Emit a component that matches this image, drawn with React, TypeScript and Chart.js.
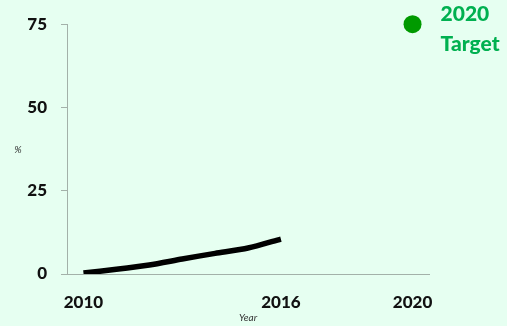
import React, { useEffect, useRef } from "react";
import { Chart, registerables } from "chart.js";

Chart.register(...registerables);

// Share (%) by year, plus the 2020 target
const years = [2010, 2011, 2012, 2013, 2014, 2015, 2016];
const shares = [0.3, 1.4, 2.7, 4.5, 6.2, 7.8, 10.5];
const targetYear = 2020;
const targetValue = 75;
const targetLabel = ["2020", "Target"];
const xTickValues = [2010, 2016, 2020];
const yTickValues = [0, 25, 50, 75];

const TICK_FONT = { family: "Lato, 'Open Sans', sans-serif", size: 17, weight: "900" as any };
const AXIS_COLOR = "#a3b1a9";
const GREEN_DOT = "#009a00";
const GREEN_TEXT = "#00b050";

const annotations = {
  id: "annotations",
  afterDatasetsDraw(chart: any) {
    const { ctx, chartArea, scales } = chart;
    const px = scales.x.getPixelForValue(targetYear);
    const py = scales.y.getPixelForValue(targetValue);
    ctx.save();
    ctx.fillStyle = GREEN_TEXT;
    ctx.font = "900 21px Lato, 'Open Sans', sans-serif";
    ctx.textAlign = "left";
    ctx.textBaseline = "middle";
    ctx.fillText(targetLabel[0], px + 28, py - 10);
    ctx.fillText(targetLabel[1], px + 28, py + 20);
    // horizontal "%" axis title
    ctx.fillStyle = "#333";
    ctx.font = "italic 10px Lato, 'Open Sans', sans-serif";
    ctx.textAlign = "center";
    ctx.fillText("%", 18, (chartArea.top + chartArea.bottom) / 2 + 1);
    ctx.restore();
  },
};

export default function App() {
  const ref = useRef<HTMLCanvasElement>(null);

  useEffect(() => {
    document.body.style.margin = "0";
    document.body.style.background = "#e6fff1";
    const chart = new Chart(ref.current!, {
      type: "line",
      data: {
        datasets: [
          {
            data: years.map((y, i) => ({ x: y, y: shares[i] })),
            borderColor: "#000",
            borderWidth: 5.5,
            borderCapStyle: "butt",
            tension: 0.25,
            pointRadius: 0,
            fill: false,
          },
          {
            data: [{ x: targetYear, y: targetValue }],
            showLine: false,
            pointRadius: 9,
            pointBackgroundColor: GREEN_DOT,
            pointBorderColor: GREEN_DOT,
            pointBorderWidth: 0,
            clip: false as any,
          },
        ],
      },
      options: {
        responsive: false,
        animation: false,
        layout: { padding: { top: 24, right: 78, left: 0, bottom: 0 } },
        plugins: { legend: { display: false }, tooltip: { enabled: false } },
        scales: {
          x: {
            type: "linear",
            min: 2009.5,
            max: 2020.5,
            afterBuildTicks: (s: any) => {
              s.ticks = xTickValues.map((v) => ({ value: v }));
            },
            afterFit: (s: any) => {
              s.height = 52;
            },
            grid: { display: false, drawTicks: false },
            border: { display: true, color: AXIS_COLOR, width: 1 },
            ticks: {
              font: TICK_FONT,
              color: "#111",
              padding: 18,
              maxRotation: 0,
              autoSkip: false,
              callback: (v: any) => String(v),
            },
            title: {
              display: true,
              text: "Year",
              font: { family: "Lato, 'Open Sans', sans-serif", size: 10, style: "italic" },
              color: "#333",
              padding: { top: 0, bottom: 2 },
            },
          },
          y: {
            min: 0,
            max: 75,
            afterBuildTicks: (s: any) => {
              s.ticks = yTickValues.map((v) => ({ value: v }));
            },
            afterFit: (s: any) => {
              s.width = 67;
            },
            grid: { drawOnChartArea: false, drawTicks: true, tickLength: 6, color: AXIS_COLOR },
            border: { display: true, color: AXIS_COLOR, width: 1 },
            ticks: { font: TICK_FONT, color: "#111", padding: 14 },
          },
        },
      },
      plugins: [annotations],
    } as any);
    return () => chart.destroy();
  }, []);

  return <canvas ref={ref} width={507} height={326} style={{ display: "block" }} />;
}
